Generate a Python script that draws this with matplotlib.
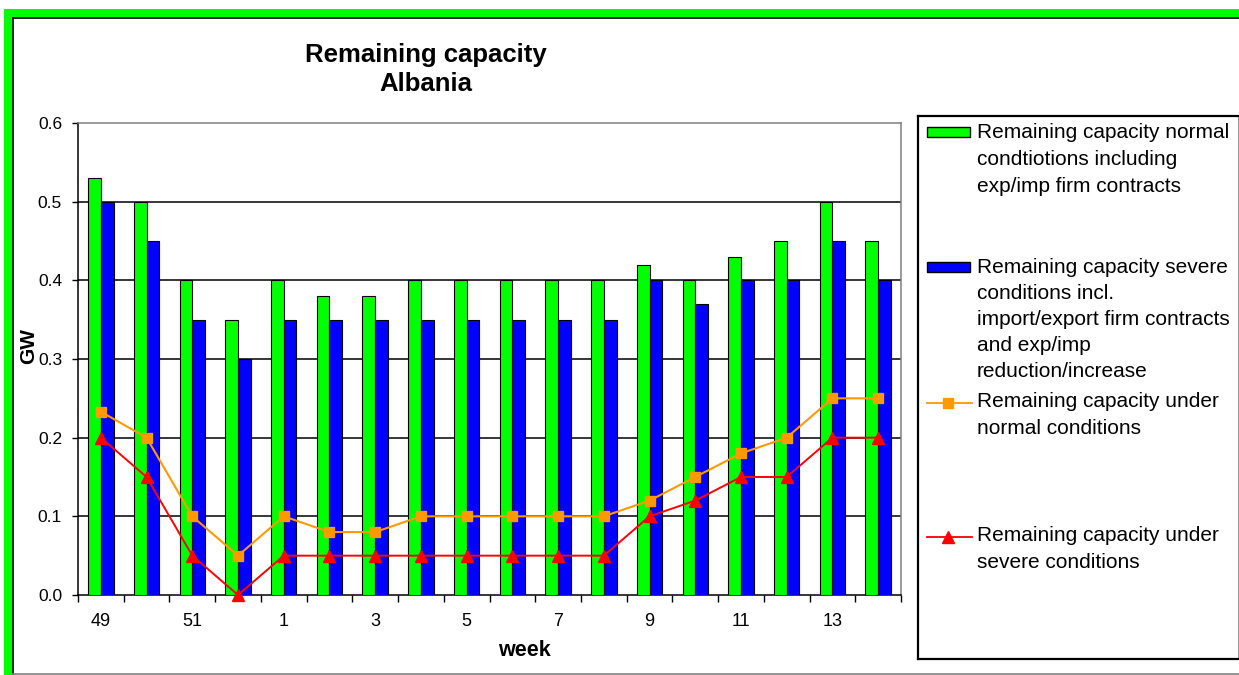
import matplotlib
matplotlib.use("Agg")
import matplotlib.pyplot as plt
from matplotlib.patches import Rectangle
from matplotlib.lines import Line2D
import numpy as np

plt.rcParams['font.family'] = ['Liberation Sans', 'DejaVu Sans']

# Week numbers across the winter period
weeks = [49, 50, 51, 52, 1, 2, 3, 4, 5, 6, 7, 8, 9, 10, 11, 12, 13, 14]

# Remaining capacity (GW)
rc_normal_firm = [0.53, 0.50, 0.40, 0.35, 0.40, 0.38, 0.38, 0.40, 0.40,
                  0.40, 0.40, 0.40, 0.42, 0.40, 0.43, 0.45, 0.50, 0.45]
rc_severe_firm = [0.50, 0.45, 0.35, 0.30, 0.35, 0.35, 0.35, 0.35, 0.35,
                  0.35, 0.35, 0.35, 0.40, 0.37, 0.40, 0.40, 0.45, 0.40]
rc_normal = [0.233, 0.20, 0.10, 0.05, 0.10, 0.08, 0.08, 0.10, 0.10,
             0.10, 0.10, 0.10, 0.12, 0.15, 0.18, 0.20, 0.25, 0.25]
rc_severe = [0.20, 0.15, 0.05, 0.00, 0.05, 0.05, 0.05, 0.05, 0.05,
             0.05, 0.05, 0.05, 0.10, 0.12, 0.15, 0.15, 0.20, 0.20]

legend_labels = [
    ["Remaining capacity normal", "condtiotions including", "exp/imp firm contracts"],
    ["Remaining capacity severe", "conditions incl.", "import/export firm contracts",
     "and exp/imp", "reduction/increase"],
    ["Remaining capacity under", "normal conditions"],
    ["Remaining capacity under", "severe conditions"],
]

GREEN = "#00FF00"
BLUE = "#0000FF"
ORANGE = "#FF9900"
RED = "#FF0000"

W, H = 1239, 675
fig = plt.figure(figsize=(W / 100, H / 100), dpi=100)
fig.patch.set_facecolor("white")


def fx(px):
    return px / W


def fy(py):
    return 1 - py / H


# Outer frame of the chart object
fig.patches.append(Rectangle((fx(4), fy(675)), fx(8), fy(9) - fy(675),
                             transform=fig.transFigure, facecolor=GREEN,
                             edgecolor="none", zorder=0))
fig.patches.append(Rectangle((fx(4), fy(17)), 1, fy(9) - fy(17),
                             transform=fig.transFigure, facecolor=GREEN,
                             edgecolor="none", zorder=0))
fig.add_artist(Line2D([fx(12.5), fx(12.5)], [fy(17.5), fy(675)],
                      transform=fig.transFigure, color="black", lw=1.2))
fig.add_artist(Line2D([fx(12.5), 1], [fy(17.5), fy(17.5)],
                      transform=fig.transFigure, color="black", lw=1.2))
fig.add_artist(Line2D([fx(12.5), 1], [fy(673.5), fy(673.5)],
                      transform=fig.transFigure, color="#808080", lw=1.2))

# Main plot area
ax = fig.add_axes([fx(78), fy(595), fx(901) - fx(78), fy(123) - fy(595)])
x = np.arange(len(weeks))
bw = 0.278
ax.bar(x - bw / 2, rc_normal_firm, width=bw, color=GREEN, edgecolor="black",
       linewidth=0.8, zorder=3)
ax.bar(x + bw / 2, rc_severe_firm, width=bw, color=BLUE, edgecolor="black",
       linewidth=0.8, zorder=3)
ax.plot(x, rc_normal, color=ORANGE, lw=1.5, marker="s", markersize=7.5,
        markerfacecolor=ORANGE, markeredgecolor=ORANGE, zorder=4, clip_on=False)
ax.plot(x, rc_severe, color=RED, lw=1.4, marker="^", markersize=9,
        markerfacecolor=RED, markeredgecolor=RED, zorder=5, clip_on=False)

ax.set_xlim(-0.5, len(weeks) - 0.5)
ax.set_ylim(0, 0.6)
ax.set_yticks(np.arange(0, 0.61, 0.1))
ax.set_yticklabels([f"{v:.1f}" for v in np.arange(0, 0.61, 0.1)], fontsize=12.5)
for yv in np.arange(0.1, 0.55, 0.1):
    ax.axhline(yv, color="black", lw=1.1, zorder=1)

ax.set_xticks(np.arange(-0.5, len(weeks), 1.0))
ax.set_xticklabels([])
ax.set_xticks(x, minor=True)
ax.set_xticklabels([str(w) if i % 2 == 0 else "" for i, w in enumerate(weeks)],
                   minor=True, fontsize=13)
ax.tick_params(axis="x", which="major", length=5, width=1, direction="out")
ax.tick_params(axis="x", which="minor", length=0, pad=13)
ax.tick_params(axis="y", length=4.5, width=1, direction="out", pad=7)

ax.spines["top"].set_color("#808080")
ax.spines["right"].set_color("#808080")
ax.spines["left"].set_color("black")
ax.spines["bottom"].set_color("black")
for s in ax.spines.values():
    s.set_linewidth(1.1)

# Titles and axis names
fig.text(fx(426), fy(55), "Remaining capacity", ha="center", va="center",
         fontsize=18.5, fontweight="bold")
fig.text(fx(426), fy(84), "Albania", ha="center", va="center",
         fontsize=18.5, fontweight="bold")
fig.text(fx(29), fy(346), "GW", ha="center", va="center", rotation=90,
         fontsize=15, fontweight="bold")
fig.text(fx(524), fy(651), "week", ha="center", va="center",
         fontsize=15.5, fontweight="bold")

# Legend panel
lg = fig.add_axes([fx(918), fy(659), 1 - fx(918), fy(116) - fy(659)])
lg.set_xlim(918, W)
lg.set_ylim(659, 116)
lg.set_xticks([])
lg.set_yticks([])
for side in ("left", "top", "bottom"):
    lg.spines[side].set_color("black")
    lg.spines[side].set_linewidth(1.6)
lg.spines["right"].set_color("#808080")
lg.spines["right"].set_linewidth(1.2)

lg.add_patch(Rectangle((927, 127), 43, 10, facecolor=GREEN,
                       edgecolor="black", lw=1))
lg.add_patch(Rectangle((927, 262), 43, 10, facecolor=BLUE,
                       edgecolor="black", lw=1))
lg.plot([927, 972], [403, 403], color=ORANGE, lw=1.3)
lg.plot([948], [403], marker="s", markersize=7, color=ORANGE)
lg.plot([927, 972], [537, 537], color=RED, lw=1.3)
lg.plot([948], [537], marker="^", markersize=8.5, color=RED)

starts = [133, 268, 402, 536]
pitches = [26.7, 26.0, 26.5, 27.0]
for lines, y0, p in zip(legend_labels, starts, pitches):
    for k, t in enumerate(lines):
        lg.text(977, y0 + k * p, t, ha="left", va="center", fontsize=15,
                clip_on=False)

fig.savefig("out.png", dpi=100)
